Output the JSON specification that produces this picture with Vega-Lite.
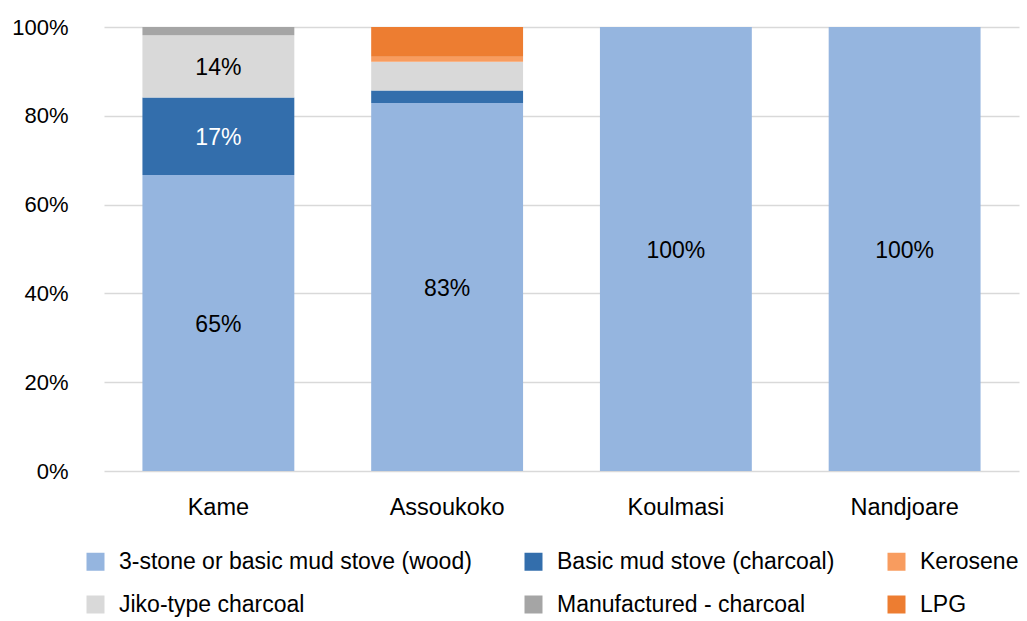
{
  "$schema": "https://vega.github.io/schema/vega-lite/v6.json",
  "width": 915,
  "height": 444,
  "autosize": {"type": "none"},
  "padding": {"left": 104, "top": 27, "right": 8, "bottom": 150},
  "background": "white",
  "config": {
    "font": "Liberation Sans",
    "view": {"stroke": null},
    "axis": {"labelFont": "Liberation Sans", "labelFontSize": 22, "labelColor": "#000000", "title": null}
  },
  "data": {
    "values": [
      {"site": "Kame", "type": "3-stone or basic mud stove (wood)", "ord": 1, "value": 0.654},
      {"site": "Kame", "type": "Basic mud stove (charcoal)", "ord": 2, "value": 0.171},
      {"site": "Kame", "type": "Jiko-type charcoal", "ord": 3, "value": 0.138},
      {"site": "Kame", "type": "Manufactured - charcoal", "ord": 5, "value": 0.018},
      {"site": "Assoukoko", "type": "3-stone or basic mud stove (wood)", "ord": 1, "value": 0.829},
      {"site": "Assoukoko", "type": "Basic mud stove (charcoal)", "ord": 2, "value": 0.028},
      {"site": "Assoukoko", "type": "Jiko-type charcoal", "ord": 3, "value": 0.065},
      {"site": "Assoukoko", "type": "Kerosene", "ord": 4, "value": 0.011},
      {"site": "Assoukoko", "type": "LPG", "ord": 6, "value": 0.067},
      {"site": "Koulmasi", "type": "3-stone or basic mud stove (wood)", "ord": 1, "value": 1.0},
      {"site": "Nandjoare", "type": "3-stone or basic mud stove (wood)", "ord": 1, "value": 1.0}
    ]
  },
  "transform": [
    {"stack": "value", "groupby": ["site"], "sort": [{"field": "ord", "order": "ascending"}], "offset": "normalize", "as": ["y0", "y1"]},
    {"calculate": "(datum.y0 + datum.y1) / 2", "as": "ymid"}
  ],
  "encoding": {
    "x": {
      "field": "site",
      "type": "nominal",
      "sort": ["Kame", "Assoukoko", "Koulmasi", "Nandjoare"],
      "scale": {"paddingInner": 0.336, "paddingOuter": 0.168},
      "axis": {"labelAngle": 0, "domain": false, "ticks": false, "labelPadding": 24, "labelFontSize": 23.5, "grid": false}
    }
  },
  "layer": [
    {
      "mark": {"type": "bar"},
      "encoding": {
        "y": {
          "field": "y0",
          "type": "quantitative",
          "scale": {"domain": [0, 1]},
          "axis": {"values": [0, 0.2, 0.4, 0.6, 0.8, 1], "format": ".0%", "domain": false, "ticks": false, "labelPadding": 36, "grid": true, "gridColor": "#d9d9d9", "gridWidth": 1.5}
        },
        "y2": {"field": "y1"},
        "color": {
          "field": "type",
          "type": "nominal",
          "scale": {
            "domain": ["3-stone or basic mud stove (wood)", "Basic mud stove (charcoal)", "Kerosene", "Jiko-type charcoal", "Manufactured - charcoal", "LPG"],
            "range": ["#95b5df", "#336eac", "#f89c5f", "#d9d9d9", "#a5a5a5", "#ed7d31"]
          },
          "legend": {
            "orient": "none",
            "legendX": -20,
            "legendY": 523,
            "direction": "horizontal",
            "columns": 3,
            "title": null,
            "symbolType": "square",
            "symbolSize": 324,
            "symbolStrokeWidth": 0,
            "labelFontSize": 23,
            "labelFont": "Liberation Sans",
            "labelColor": "#000000",
            "labelOffset": 12,
            "labelLimit": 600,
            "rowPadding": 19,
            "columnPadding": 50
          }
        }
      }
    },
    {
      "transform": [{"filter": "datum.value >= 0.1"}],
      "mark": {"type": "text", "fontSize": 23, "font": "Liberation Sans", "baseline": "middle", "dy": 2},
      "encoding": {
        "y": {"field": "ymid", "type": "quantitative"},
        "text": {"field": "value", "type": "quantitative", "format": ".0%"},
        "color": {
          "condition": {"test": "datum.type === 'Basic mud stove (charcoal)'", "value": "#ffffff"},
          "value": "#000000"
        }
      }
    }
  ]
}
